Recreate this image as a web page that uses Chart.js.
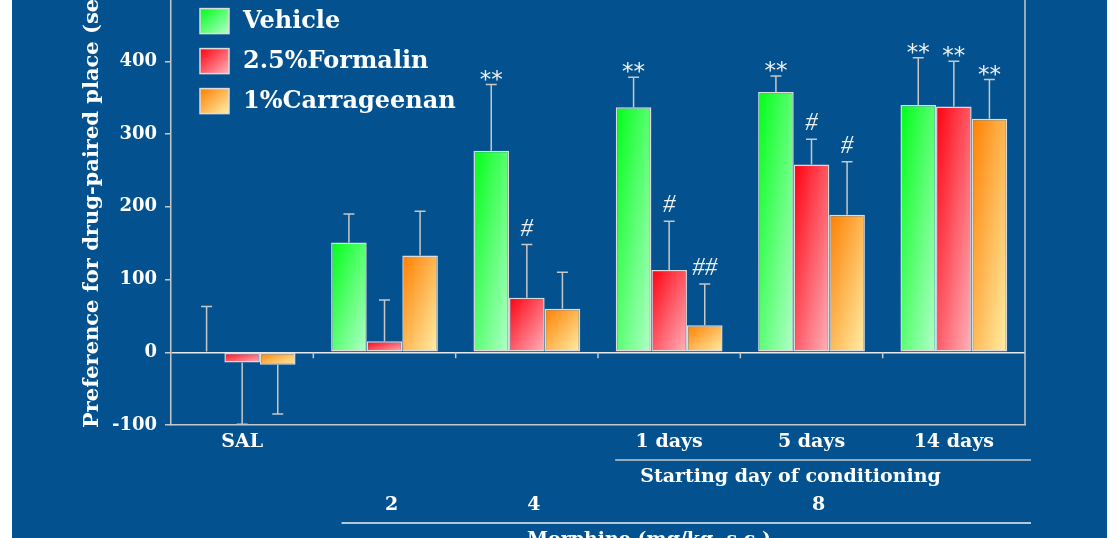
<!DOCTYPE html>
<html>
<head>
<meta charset="utf-8">
<script src="https://cdn.jsdelivr.net/npm/chart.js@4.4.1/dist/chart.umd.min.js"></script>
<style>
  html, body { margin: 0; padding: 0; background: #fff; overflow: hidden; }
  #bg { position: absolute; left: 12px; top: 0; width: 1095px; height: 538px; background: #03528f; }
  #chart { position: absolute; left: 0; top: -40px; }
</style>
</head>
<body>
<div id="bg"></div>
<canvas id="chart" width="1118" height="578"></canvas>
<script>
  // values (seconds)
  const categories = ['SAL', '2', '4', '1 days', '5 days', '14 days'];
  const tickLabels = ['SAL', '', '', '1 days', '5 days', '14 days'];
  const doseLabels = ['', '2', '4', '', '8', ''];
  const seriesNames = ['Vehicle', '2.5%Formalin', '1%Carrageenan'];

  const vehicle = [1, 151, 277, 337, 358, 340];
  const formalin = [-14, 15, 75, 113, 258, 338];
  const carrageenan = [-17, 133, 60, 37, 189, 321];

  const vehicleErr = [62, 39, 91, 41, 22, 65];
  const formalinErr = [85, 57, 73, 67, 35, 62];
  const carrageenanErr = [68, 61, 50, 57, 73, 54];

  const vehicleSig = ['', '', '**', '**', '**', '**'];
  const formalinSig = ['', '', '#', '#', '#', '**'];
  const carrageenanSig = ['', '', '', '##', '#', '**'];

  const yTicks = [-100, 0, 100, 200, 300, 400];

  const errors = [vehicleErr, formalinErr, carrageenanErr];
  const sigs = [vehicleSig, formalinSig, carrageenanSig];
  const fills = [
    ['#00ff18', '#b4ffcc'],
    ['#ff0010', '#ffb4bc'],
    ['#ff7f00', '#fff0a8']
  ];

  const FONT = "'DejaVu Serif', serif";
  const LINE = '#c8c8c8';

  // diagonal gradient that scales with the box (top-left -> bottom-right)
  function boxGradient(ctx, left, top, w, h, cols) {
    const a = 1 / (2 * w), b = 1 / (2 * Math.max(h, 1));
    const d = a * a + b * b;
    const g = ctx.createLinearGradient(left, top, left + a / d, top + b / d);
    g.addColorStop(0, cols[0]);
    g.addColorStop(1, cols[1]);
    return g;
  }

  function barFill(cols) {
    return function (c) {
      const chart = c.chart;
      if (!chart.chartArea || c.type !== 'data') return cols[0];
      const x = chart.scales.x, y = chart.scales.y;
      const catW = x.getPixelForValue(1) - x.getPixelForValue(0);
      const bw = catW * 0.75 / 3;
      const left = x.getPixelForValue(c.dataIndex) - 1.5 * bw + c.datasetIndex * bw;
      const v = c.raw;
      const top = y.getPixelForValue(Math.max(v, 0));
      const bottom = y.getPixelForValue(Math.min(v, 0));
      return boxGradient(chart.ctx, left, top, bw, bottom - top, cols);
    };
  }

  const overlay = {
    id: 'overlay',
    afterDatasetsDraw(chart) {
      const ctx = chart.ctx, y = chart.scales.y;
      ctx.save();
      chart.data.datasets.forEach((ds, di) => {
        const meta = chart.getDatasetMeta(di);
        meta.data.forEach((bar, i) => {
          const v = ds.data[i], e = errors[di][i];
          const y0 = y.getPixelForValue(v);
          const y1 = y.getPixelForValue(v >= 0 ? v + e : v - e);
          ctx.strokeStyle = LINE;
          ctx.lineWidth = 1.5;
          ctx.beginPath();
          ctx.moveTo(bar.x, y0);
          ctx.lineTo(bar.x, y1);
          ctx.moveTo(bar.x - 5.5, y1);
          ctx.lineTo(bar.x + 5.5, y1);
          ctx.stroke();
          const s = sigs[di][i];
          if (s) {
            ctx.fillStyle = '#f0f0f0';
            ctx.textAlign = 'center';
            ctx.textBaseline = 'alphabetic';
            if (s.indexOf('#') >= 0) {
              ctx.font = "italic 25px 'Liberation Serif'";
              ctx.fillText(s, bar.x, y1 - 9);
            } else {
              ctx.font = "23px 'DejaVu Sans'";
              ctx.fillText(s, bar.x, y1 + 2);
            }
          }
        });
      });
      ctx.restore();
    },
    afterDraw(chart) {
      const ctx = chart.ctx, x = chart.scales.x, y = chart.scales.y;
      const area = chart.chartArea;
      const catW = x.getPixelForValue(1) - x.getPixelForValue(0);
      const zero = y.getPixelForValue(0);
      ctx.save();
      ctx.strokeStyle = LINE;
      ctx.lineWidth = 1.5;
      // right frame
      ctx.beginPath();
      ctx.moveTo(area.right, area.top);
      ctx.lineTo(area.right, area.bottom);
      // category ticks hanging from the zero line
      for (let i = 1; i < categories.length; i++) {
        const bx = x.getPixelForValue(i) - catW / 2;
        ctx.moveTo(bx, zero);
        ctx.lineTo(bx, zero + 6);
      }
      ctx.stroke();

      // legend
      seriesNames.forEach((name, i) => {
        const lx = area.left + 29, ly = area.top + 20 + i * 40;
        ctx.fillStyle = boxGradient(ctx, lx, ly, 29, 25, fills[i]);
        ctx.fillRect(lx, ly, 29, 25);
        ctx.strokeStyle = '#dcdcdc';
        ctx.lineWidth = 1.5;
        ctx.strokeRect(lx, ly, 29, 25);
        ctx.fillStyle = '#ffffff';
        ctx.font = 'bold 24px ' + FONT;
        ctx.textAlign = 'left';
        ctx.textBaseline = 'middle';
        ctx.fillText(name, lx + 43, ly + 13);
      });

      // y title
      ctx.save();
      ctx.translate(93, area.bottom + 3);
      ctx.rotate(-Math.PI / 2);
      ctx.font = 'bold 21px ' + FONT;
      ctx.fillStyle = '#ffffff';
      ctx.textAlign = 'left';
      ctx.textBaseline = 'middle';
      ctx.fillText('Preference for drug-paired place (sec)', 0, 0);
      ctx.restore();

      // second level: starting day of conditioning
      const b = area.bottom;
      ctx.strokeStyle = LINE;
      ctx.beginPath();
      ctx.moveTo(x.getPixelForValue(3) - 54, b + 35);
      ctx.lineTo(area.right + 6, b + 35);
      ctx.stroke();
      ctx.fillStyle = '#ffffff';
      ctx.font = 'bold 19px ' + FONT;
      ctx.textAlign = 'center';
      ctx.textBaseline = 'middle';
      ctx.fillText('Starting day of conditioning', x.getPixelForValue(4) - 21, b + 52);

      // third level: morphine dose
      doseLabels.forEach((d, i) => {
        if (d) ctx.fillText(d, x.getPixelForValue(i) + 7, b + 80);
      });
      ctx.strokeStyle = '#f0f0f0';
      ctx.beginPath();
      ctx.moveTo(x.getPixelForValue(1) - 43, b + 98);
      ctx.lineTo(area.right + 6, b + 98);
      ctx.stroke();
      ctx.textAlign = 'left';
      ctx.textBaseline = 'top';
      ctx.fillText('Morphine (mg/kg, s.c.)', 527, b + 106);
      ctx.restore();
    }
  };

  new Chart(document.getElementById('chart'), {
    type: 'bar',
    data: {
      labels: categories,
      datasets: [
        { label: seriesNames[0], data: vehicle, backgroundColor: barFill(fills[0]) },
        { label: seriesNames[1], data: formalin, backgroundColor: barFill(fills[1]) },
        { label: seriesNames[2], data: carrageenan, backgroundColor: barFill(fills[2]) }
      ]
    },
    options: {
      responsive: false,
      animation: false,
      layout: { padding: { top: 28.6, left: 0, right: 93, bottom: 0 } },
      datasets: {
        bar: {
          barPercentage: 1,
          categoryPercentage: 0.75,
          borderWidth: 1.5,
          borderColor: '#dcdcdc',
          borderSkipped: false
        }
      },
      plugins: { legend: { display: false }, tooltip: { enabled: false } },
      scales: {
        x: {
          afterFit: s => { s.height = 113; },
          grid: { display: false, drawTicks: false },
          border: { display: true, color: LINE, width: 1.5 },
          ticks: {
            padding: 6,
            color: '#ffffff',
            font: { family: FONT, size: 19, weight: 'bold' },
            callback: (v, i) => tickLabels[i]
          }
        },
        y: {
          min: -100,
          max: 500,
          afterFit: s => { s.width = 171; },
          afterBuildTicks: s => { s.ticks = yTicks.map(v => ({ value: v })); },
          grid: {
            drawTicks: true,
            tickLength: 6,
            tickColor: LINE,
            lineWidth: 1.5,
            color: c => (c.tick && c.tick.value === 0 ? '#e8e8e8' : 'transparent')
          },
          border: { display: true, color: LINE, width: 1.5 },
          ticks: {
            padding: 8,
            color: '#ffffff',
            font: { family: FONT, size: 18, weight: 'bold' }
          }
        }
      }
    },
    plugins: [overlay]
  });
</script>
</body>
</html>
